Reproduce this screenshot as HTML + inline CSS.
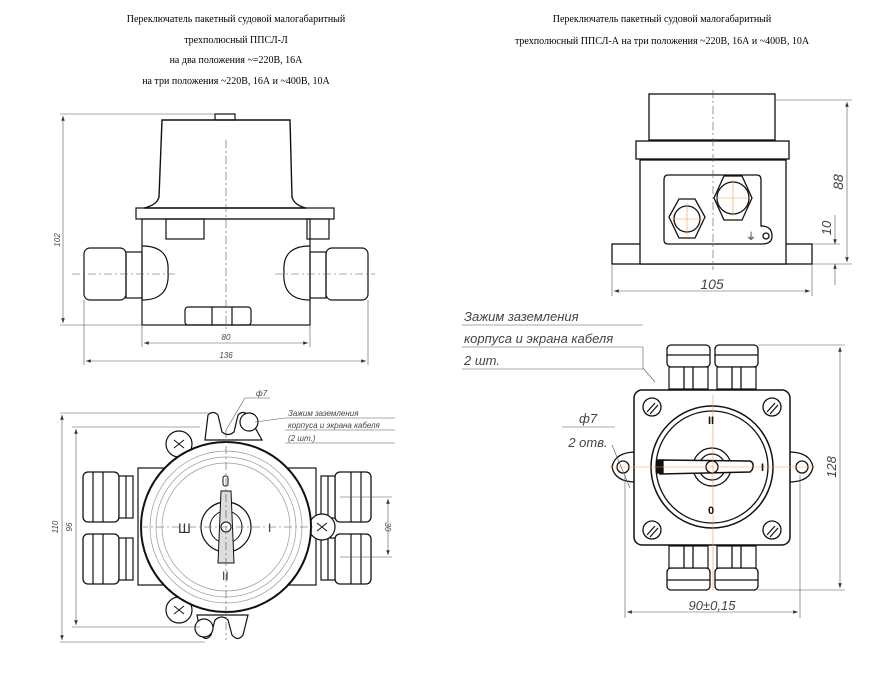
<!DOCTYPE html>
<html><head><meta charset="utf-8"><style>
html,body{margin:0;padding:0;background:#fff;}
svg{display:block}
.t{font-family:"Liberation Serif",serif;font-size:10px;fill:#000}
.d{font-family:"Liberation Sans",sans-serif;font-style:italic;fill:#444}
</style></head><body>
<svg width="875" height="673" viewBox="0 0 875 673" xmlns="http://www.w3.org/2000/svg">
<defs>
<marker id="a" markerWidth="8" markerHeight="6" refX="8" refY="3" orient="auto-start-reverse"><path d="M0,0 L8,3 L0,6z" fill="#333"/></marker>
<g id="gl"><rect x="0" y="0" width="36" height="50" rx="5" fill="#fff" stroke="#111" stroke-width="1.3"/><line x1="10" y1="0" x2="10" y2="50" stroke="#111"/><line x1="20" y1="0" x2="20" y2="50" stroke="#111"/><rect x="36" y="4" width="14" height="42" fill="#fff" stroke="#111" stroke-width="1.2"/><line x1="43" y1="4" x2="43" y2="46" stroke="#111"/></g>
<g id="vg"><rect x="0" y="0" width="43" height="22" rx="4" fill="#fff" stroke="#111" stroke-width="1.3"/><rect x="2" y="22" width="39" height="22" fill="#fff" stroke="#111" stroke-width="1.2"/><line x1="0" y1="10" x2="43" y2="10" stroke="#111"/><line x1="17" y1="22" x2="17" y2="44" stroke="#111"/><line x1="26" y1="22" x2="26" y2="44" stroke="#111"/></g>
</defs>
<text class="t" x="236" y="22" text-anchor="middle">Переключатель пакетный судовой малогабаритный</text>
<text class="t" x="236" y="43" text-anchor="middle">трехполюсный ППСЛ-Л</text>
<text class="t" x="236" y="63" text-anchor="middle">на два положения ~=220В, 16А</text>
<text class="t" x="236" y="84" text-anchor="middle">на три положения ~220В, 16А и ~400В, 10А</text>
<text class="t" x="662" y="22" text-anchor="middle">Переключатель пакетный судовой малогабаритный</text>
<text class="t" x="662" y="44" text-anchor="middle">трехполюсный ППСЛ-А на три положения ~220В, 16А и ~400В, 10А</text>

<!-- top left side view -->
<g stroke="#111" fill="none" stroke-width="1.2">
<path d="M162,120 L290,120 L292,197 Q294,205 306,208 L144,208 Q157,205 159,197 Z" fill="#fff" stroke-width="1.4"/>
<rect x="136" y="208" width="198" height="11"/>
<rect x="142" y="219" width="168" height="106"/>
<rect x="166" y="219" width="38" height="20"/>
<rect x="307" y="219" width="22" height="20"/>
<rect x="185" y="307" width="66" height="18" rx="3"/>
<line x1="212" y1="307" x2="212" y2="325"/><line x1="232" y1="307" x2="232" y2="325"/>
<rect x="84" y="248" width="42" height="52" rx="6"/><rect x="126" y="252" width="16" height="46"/>
<path d="M142,246 Q170,246 168,272 Q170,300 142,300"/>
<rect x="326" y="248" width="42" height="52" rx="6"/><rect x="310" y="252" width="16" height="46"/>
<path d="M310,246 Q282,246 284,272 Q282,300 310,300"/>
<rect x="215" y="114" width="20" height="6"/>
</g>
<g stroke="#555" stroke-width="0.6" fill="none">
<line x1="226" y1="140" x2="226" y2="330" stroke-dasharray="8,3,2,3"/>
<line x1="72" y1="274" x2="175" y2="274" stroke-dasharray="8,3,2,3"/>
<line x1="275" y1="274" x2="375" y2="274" stroke-dasharray="8,3,2,3"/>
<line x1="60" y1="114" x2="215" y2="114"/><line x1="60" y1="325" x2="142" y2="325"/>
<line x1="63" y1="116" x2="63" y2="323" marker-start="url(#a)" marker-end="url(#a)"/>
<line x1="142" y1="325" x2="142" y2="347"/><line x1="310" y1="325" x2="310" y2="347"/>
<line x1="144" y1="343" x2="308" y2="343" marker-start="url(#a)" marker-end="url(#a)"/>
<line x1="84" y1="300" x2="84" y2="365"/><line x1="368" y1="300" x2="368" y2="365"/>
<line x1="86" y1="361" x2="366" y2="361" marker-start="url(#a)" marker-end="url(#a)"/>
</g>
<text class="d" x="226" y="340" font-size="8" text-anchor="middle">80</text>
<text class="d" x="226" y="358" font-size="8" text-anchor="middle">136</text>
<text class="d" x="60" y="240" font-size="8" transform="rotate(-90 60 240)" text-anchor="middle">102</text>

<!-- bottom left top view -->
<g stroke="#111" fill="#fff" stroke-width="1.2">
<rect x="138" y="468" width="178" height="117"/>
<use href="#gl" x="83" y="472"/><use href="#gl" x="83" y="534"/>
<use href="#gl" transform="translate(371,472) scale(-1,1)"/><use href="#gl" transform="translate(371,534) scale(-1,1)"/>
<path d="M205,440 L208,415 Q213,410 218,415 L222,432 Q228,437 234,432 L238,415 Q243,410 248,415 L262,440 Z"/>
<path d="M197,615 L201,635 Q206,642 211,635 L215,620 Q222,614 228,620 L232,635 Q238,642 243,635 L248,615 Z"/>
<circle cx="179" cy="444" r="13"/><circle cx="179" cy="610" r="13"/><circle cx="322" cy="527" r="13"/>
<circle cx="249" cy="422" r="9"/><circle cx="204" cy="628" r="9"/>
<circle cx="226" cy="527" r="85" stroke-width="2"/>
</g>
<g stroke="#999" fill="none" stroke-width="0.7">
<circle cx="226" cy="527" r="76"/><circle cx="226" cy="527" r="70"/><circle cx="226" cy="527" r="64"/>
</g>
<g stroke="#111" fill="none">
<circle cx="226" cy="527" r="25" stroke-width="1.2"/><circle cx="226" cy="527" r="16"/>
<path d="M221,491 L231,491 L234,563 L218,563 Z" fill="#ddd"/><circle cx="226" cy="527" r="5" fill="#fff"/>
<rect x="223" y="476" width="5" height="10" rx="2"/>
<text x="178" y="533" font-size="14" font-family="Liberation Sans" fill="#333" stroke="none">Ш</text>
<text x="268" y="532" font-size="12" font-family="Liberation Sans" fill="#333" stroke="none">I</text>
<text x="222" y="580" font-size="12" font-family="Liberation Sans" fill="#333" stroke="none">II</text>
<path d="M174,440 l10,8 M184,440 l-10,8 M174,606 l10,8 M184,606 l-10,8 M317,523 l10,8 M327,523 l-10,8"/>
</g>
<g stroke="#555" stroke-width="0.6" fill="none">
<line x1="226" y1="430" x2="226" y2="640" stroke-dasharray="8,3,2,3"/>
<line x1="140" y1="527" x2="315" y2="527" stroke-dasharray="8,3,2,3"/>
<line x1="60" y1="413" x2="210" y2="413"/><line x1="60" y1="642" x2="205" y2="642"/>
<line x1="62" y1="415" x2="62" y2="640" marker-start="url(#a)" marker-end="url(#a)"/>
<line x1="72" y1="427" x2="200" y2="427"/><line x1="72" y1="627" x2="200" y2="627"/>
<line x1="76" y1="429" x2="76" y2="625" marker-start="url(#a)" marker-end="url(#a)"/>
<line x1="340" y1="497" x2="392" y2="497"/><line x1="340" y1="557" x2="392" y2="557"/>
<line x1="388" y1="499" x2="388" y2="555" marker-start="url(#a)" marker-end="url(#a)"/>
<line x1="226" y1="430" x2="245" y2="398"/><line x1="245" y1="398" x2="270" y2="398"/>
<line x1="255" y1="422" x2="285" y2="418"/>
<line x1="285" y1="418" x2="395" y2="418"/><line x1="285" y1="430" x2="395" y2="430"/><line x1="285" y1="443" x2="395" y2="443"/>
</g>
<text class="d" x="256" y="396" font-size="8">ф7</text>
<text class="d" x="288" y="416" font-size="8">Зажим заземления</text>
<text class="d" x="288" y="428" font-size="8">корпуса и экрана кабеля</text>
<text class="d" x="288" y="441" font-size="8">(2 шт.)</text>
<text class="d" x="72" y="527" font-size="8" transform="rotate(-90 72 527)" text-anchor="middle">96</text>
<text class="d" x="58" y="527" font-size="8" transform="rotate(-90 58 527)" text-anchor="middle">110</text>
<text class="d" x="385" y="527" font-size="8" transform="rotate(90 385 527)" text-anchor="middle">30</text>

<!-- top right front view -->
<g stroke="#111" fill="#fff" stroke-width="1.3">
<rect x="649" y="94" width="126" height="46"/>
<rect x="636" y="141" width="153" height="18"/>
<rect x="612" y="244" width="200" height="20"/>
<rect x="640" y="160" width="146" height="104"/>
<path d="M668,175 L757,175 Q761,175 761,180 L761,226 Q772,226 772,236 Q772,244 762,244 L668,244 Q664,244 664,240 L664,180 Q664,175 668,175Z"/>
<polygon points="679,199 695,199 705,217 695,238 679,238 669,217"/>
<circle cx="687" cy="219" r="13"/>
<polygon points="724,176 742,176 752,198 742,220 724,220 714,198"/>
<circle cx="733" cy="198" r="16"/>
<circle cx="766" cy="236" r="3"/>
</g>
<g stroke="#555" stroke-width="0.6" fill="none">
<line x1="713" y1="90" x2="713" y2="270" stroke-dasharray="8,3,2,3"/>
<line x1="775" y1="100" x2="852" y2="100"/><line x1="812" y1="264" x2="852" y2="264"/><line x1="812" y1="244" x2="840" y2="244"/>
<line x1="847" y1="102" x2="847" y2="262" marker-start="url(#a)" marker-end="url(#a)"/>
<line x1="835" y1="215" x2="835" y2="244" marker-end="url(#a)"/><line x1="835" y1="285" x2="835" y2="264" marker-end="url(#a)"/>
<line x1="612" y1="264" x2="612" y2="296"/><line x1="812" y1="264" x2="812" y2="296"/>
<line x1="614" y1="291" x2="810" y2="291" marker-start="url(#a)" marker-end="url(#a)"/>
</g>
<g stroke="#f0a050" stroke-width="0.6"><line x1="670" y1="219" x2="704" y2="219"/><line x1="687" y1="203" x2="687" y2="235"/><line x1="716" y1="198" x2="750" y2="198"/><line x1="733" y1="180" x2="733" y2="216"/></g>
<text x="746" y="240" font-size="10" fill="#111" font-family="DejaVu Sans">⏚</text>
<text class="d" x="712" y="289" font-size="14" text-anchor="middle">105</text>
<text class="d" x="843" y="182" font-size="14" transform="rotate(-90 843 182)" text-anchor="middle">88</text>
<text class="d" x="831" y="228" font-size="13" transform="rotate(-90 831 228)" text-anchor="middle">10</text>

<!-- bottom right view -->
<g stroke="#111" fill="#fff" stroke-width="1.3">
<use href="#vg" x="667" y="345"/><use href="#vg" x="715" y="345"/>
<use href="#vg" transform="translate(667,590) scale(1,-1)"/><use href="#vg" transform="translate(715,590) scale(1,-1)"/>
<path d="M636,452 Q615,452 612,467 Q615,482 636,482Z"/><path d="M789,452 Q810,452 813,467 Q810,482 789,482Z"/>
<circle cx="623" cy="467" r="6"/><circle cx="802" cy="467" r="6"/>
<rect x="634" y="390" width="156" height="155" rx="8" stroke-width="1.5"/>
<circle cx="712" cy="467" r="61" stroke-width="1.5"/><circle cx="712" cy="467" r="56"/>
<circle cx="712" cy="467" r="19"/><circle cx="712" cy="467" r="13"/>
<path d="M660,460 L750,461 Q755,463 752,470 L750,472 L660,474 Z" stroke-width="1.5"/>
<rect x="657" y="460" width="6" height="13" fill="#111"/>
<circle cx="712" cy="467" r="6"/>
<circle cx="652" cy="407" r="9"/><circle cx="772" cy="407" r="9"/><circle cx="652" cy="530" r="9"/><circle cx="772" cy="530" r="9"/>
</g>
<g stroke="#111" stroke-width="1.2"><path d="M647,412 l8,-9 M650,414 l8,-9 M767,412 l8,-9 M770,414 l8,-9 M647,535 l8,-9 M650,537 l8,-9 M767,535 l8,-9 M770,537 l8,-9"/></g>
<g stroke="#f0a050" stroke-width="0.6"><line x1="713" y1="395" x2="713" y2="590"/><line x1="610" y1="467" x2="815" y2="467"/></g>
<g font-family="Liberation Sans" font-weight="bold" font-size="11" fill="#111">
<text x="708" y="424">II</text><text x="761" y="471">I</text><text x="708" y="514">0</text></g>
<g stroke="#555" stroke-width="0.6" fill="none">
<line x1="758" y1="345" x2="845" y2="345"/><line x1="758" y1="590" x2="845" y2="590"/>
<line x1="840" y1="347" x2="840" y2="588" marker-start="url(#a)" marker-end="url(#a)"/>
<line x1="625" y1="475" x2="625" y2="618"/><line x1="800" y1="475" x2="800" y2="618"/>
<line x1="627" y1="612" x2="798" y2="612" marker-start="url(#a)" marker-end="url(#a)"/>
<line x1="562" y1="427" x2="615" y2="427"/><line x1="612" y1="445" x2="630" y2="488"/>
<line x1="462" y1="325" x2="643" y2="325"/><line x1="462" y1="347" x2="643" y2="347"/><line x1="462" y1="369" x2="643" y2="369"/>
<line x1="643" y1="347" x2="643" y2="368"/><line x1="643" y1="368" x2="655" y2="382"/>
</g>
<text class="d" x="464" y="321" font-size="13">Зажим заземления</text>
<text class="d" x="464" y="343" font-size="13">корпуса и экрана кабеля</text>
<text class="d" x="464" y="365" font-size="13">2 шт.</text>
<text class="d" x="588" y="423" font-size="13" text-anchor="middle">ф7</text>
<text class="d" x="588" y="447" font-size="13" text-anchor="middle">2 отв.</text>
<text class="d" x="712" y="610" font-size="13" text-anchor="middle">90±0,15</text>
<text class="d" x="836" y="467" font-size="13" transform="rotate(-90 836 467)" text-anchor="middle">128</text>
</svg>
</body></html>
